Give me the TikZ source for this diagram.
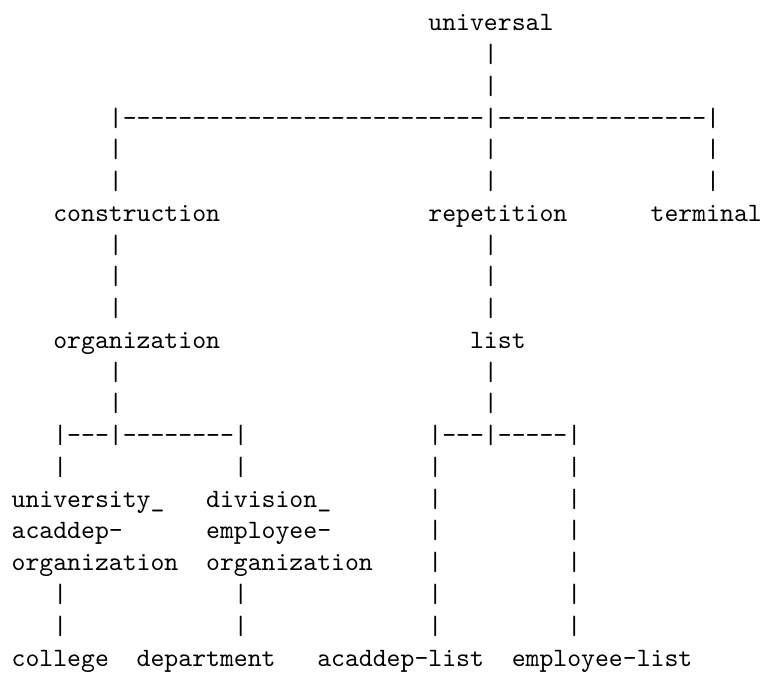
\documentclass[tikz,border=0pt]{standalone}
\newcommand\dsh[1]{\foreach \i in {1,...,#1}{-\kern0pt}}
\begin{document}
\begin{tikzpicture}[x=5.25pt,y=-12pt,
  tt/.style={font=\ttfamily, inner sep=0pt, outer sep=0pt, anchor=base west}]
\useasboundingbox (-0.84,-0.975) rectangle (54.23,20.31);
% labels
\node[tt] (universal) at (30,0) {universal};
\node[tt] (construction) at (3,6) {construction};
\node[tt] (repetition) at (30,6) {repetition};
\node[tt] (terminal) at (46,6) {terminal};
\node[tt] (organization) at (3,10) {organization};
\node[tt] (list) at (33,10) {list};
\node[tt] (univ1) at (0,15) {university\_};
\node[tt] (univ2) at (0,16) {acaddep-};
\node[tt] (univ3) at (0,17) {organization};
\node[tt] (div1) at (14,15) {division\_};
\node[tt] (div2) at (14,16) {employee-};
\node[tt] (div3) at (14,17) {organization};
\node[tt] (college) at (0,20) {college};
\node[tt] (department) at (9,20) {department};
\node[tt] (acaddeplist) at (22,20) {acaddep-list};
\node[tt] (employeelist) at (36,20) {employee-list};
% ascii connectors
\foreach \r in {1,2} \node[tt] (u\r) at (34,\r) {|};
\node[tt] (bar1) at (7,3) {|\dsh{26}|\dsh{15}|};
\foreach \r in {4,5} {
  \node[tt] (a\r) at (7,\r) {|};
  \node[tt] (b\r) at (34,\r) {|};
  \node[tt] (c\r) at (50,\r) {|};
}
\foreach \r in {7,8,9,11,12} {
  \node[tt] (d\r) at (7,\r) {|};
  \node[tt] (e\r) at (34,\r) {|};
}
\node[tt] (bar2) at (3,13) {|\dsh{3}|\dsh{8}|};
\node[tt] (bar3) at (30,13) {|\dsh{3}|\dsh{5}|};
\foreach \r in {14,18,19} {
  \node[tt] (f\r) at (3,\r) {|};
  \node[tt] (g\r) at (16,\r) {|};
}
\foreach \r in {14,15,16,17,18,19} {
  \node[tt] (h\r) at (30,\r) {|};
  \node[tt] (k\r) at (40,\r) {|};
}
\end{tikzpicture}
\end{document}
